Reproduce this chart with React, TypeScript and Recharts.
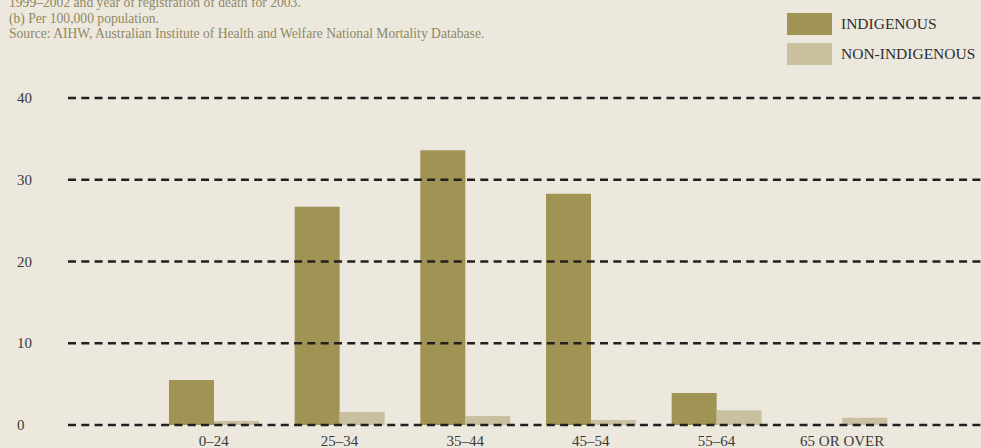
import React from "react"
import { BarChart, Bar, XAxis, YAxis, ReferenceLine } from "recharts"

const ageGroups = ["0–24", "25–34", "35–44", "45–54", "55–64", "65 OR OVER"]
const indigenous = [5.5, 26.7, 33.6, 28.3, 3.9, 0]
const nonIndigenous = [0.5, 1.6, 1.1, 0.6, 1.8, 0.9]
const yTicks = [0, 10, 20, 30, 40]

const notes = [
  "1999–2002 and year of registration of death for 2003.",
  "(b) Per 100,000 population.",
  "Source: AIHW, Australian Institute of Health and Welfare National Mortality Database.",
]

const legendItems = [
  { label: "INDIGENOUS", color: "#a09455" },
  { label: "NON-INDIGENOUS", color: "#c9c09f" },
]

const data = ageGroups.map((g, i) => ({
  group: g,
  indigenous: indigenous[i],
  nonIndigenous: nonIndigenous[i],
}))

const font = "'Liberation Serif', 'Times New Roman', serif"

function YTick({ y, payload }: any) {
  return (
    <text x={17} y={y} dy={5} fontSize={15} fill="#3a3a3a" fontFamily={font} textAnchor="start">
      {payload.value}
    </text>
  )
}

function XTick({ x, y, payload }: any) {
  return (
    <text x={x} y={y} dy={13} fontSize={15} fill="#3a3a3a" fontFamily={font} textAnchor="middle">
      {payload.value}
    </text>
  )
}

export default function App() {
  return (
    <div style={{ position: "absolute", left: 0, top: 0, width: 981, height: 448, background: "#ece8de", overflow: "hidden" }}>

      <div style={{ position: "absolute", left: 9, top: -5, fontFamily: font, fontSize: 13.6, lineHeight: "15.5px", color: "#8f8862", whiteSpace: "nowrap" }}>
        {notes.map((n) => (
          <div key={n}>{n}</div>
        ))}
      </div>

      {legendItems.map((item, i) => (
        <div key={item.label} style={{ position: "absolute", left: 787, top: 13 + i * 30, display: "flex", alignItems: "center" }}>
          <div style={{ width: 45, height: 22, background: item.color }} />
          <span style={{ marginLeft: 9, fontFamily: font, fontSize: 15.5, color: "#2e2e2e", whiteSpace: "nowrap" }}>{item.label}</span>
        </div>
      ))}

      <BarChart
        width={981}
        height={448}
        data={data}
        margin={{ top: 98, right: 0, bottom: 0, left: 0 }}
        barSize={45}
        barGap={0}
        style={{ position: "absolute", left: 0, top: 0 }}
      >
        <XAxis
          dataKey="group"
          height={23}
          axisLine={false}
          tickLine={false}
          tick={<XTick />}
          interval={0}
          padding={{ left: 83, right: 76 }}
        />
        <YAxis
          width={68}
          domain={[0, 40]}
          ticks={yTicks}
          axisLine={false}
          tickLine={false}
          tick={<YTick />}
        />
        <Bar dataKey="indigenous" fill="#a09455" isAnimationActive={false} />
        <Bar dataKey="nonIndigenous" fill="#c9c09f" isAnimationActive={false} />
        {yTicks.map((t) => (
          <ReferenceLine key={t} y={t} stroke="#231f20" strokeWidth={2.6} strokeDasharray="8 5.3" />
        ))}
      </BarChart>

    </div>
  )
}
